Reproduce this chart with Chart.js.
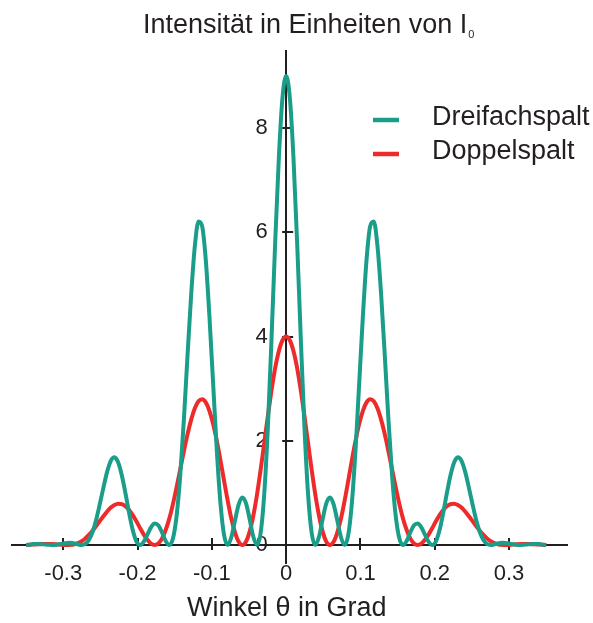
<!DOCTYPE html>
<html>
<head>
<meta charset="utf-8">
<script src="https://cdn.jsdelivr.net/npm/chart.js@4.4.1/dist/chart.umd.min.js"></script>
<style>
html,body{margin:0;padding:0;background:#ffffff;}
#wrap{position:relative;width:593px;height:623px;}
</style>
</head>
<body>
<div id="wrap"><canvas id="c" width="593" height="623"></canvas></div>
<script>
// ---- data ----
const angles = [
 -0.3500,-0.3442,-0.3393,-0.3343,-0.3294,-0.3245,-0.3196,-0.3147,-0.3098,-0.3048,-0.2999,-0.2950,
 -0.2901,-0.2852,-0.2803,-0.2753,-0.2704,-0.2655,-0.2606,-0.2557,-0.2508,-0.2458,-0.2409,-0.2360,
 -0.2311,-0.2262,-0.2213,-0.2163,-0.2114,-0.2065,-0.2016,-0.1967,-0.1918,-0.1868,-0.1819,-0.1770,
 -0.1721,-0.1672,-0.1623,-0.1573,-0.1524,-0.1475,-0.1426,-0.1377,-0.1328,-0.1278,-0.1229,-0.1180,
 -0.1131,-0.1082,-0.1033,-0.0983,-0.0934,-0.0885,-0.0836,-0.0787,-0.0738,-0.0688,-0.0639,-0.0590,
 -0.0541,-0.0492,-0.0443,-0.0393,-0.0344,-0.0295,-0.0246,-0.0197,-0.0148,-0.0098,-0.0049,
 0,
 0.0049,0.0098,0.0148,0.0197,0.0246,0.0295,0.0344,0.0393,0.0443,0.0492,0.0541,
 0.0590,0.0639,0.0688,0.0738,0.0787,0.0836,0.0885,0.0934,0.0983,0.1033,0.1082,0.1131,
 0.1180,0.1229,0.1278,0.1328,0.1377,0.1426,0.1475,0.1524,0.1573,0.1623,0.1672,0.1721,
 0.1770,0.1819,0.1868,0.1918,0.1967,0.2016,0.2065,0.2114,0.2163,0.2213,0.2262,0.2311,
 0.2360,0.2409,0.2458,0.2508,0.2557,0.2606,0.2655,0.2704,0.2753,0.2803,0.2852,0.2901,
 0.2950,0.2999,0.3048,0.3098,0.3147,0.3196,0.3245,0.3294,0.3343,0.3393,0.3442,0.3500
];
const dreifachspalt = [
 0,0.012,0.018,0.020,0.017,0.010,0.003,0,0.004,0.015,0.030,0.041,
 0.042,0.030,0.011,0,0.020,0.097,0.250,0.486,0.786,1.112,1.408,1.614,
 1.682,1.587,1.342,0.994,0.616,0.287,0.071,0,0.060,0.198,0.340,0.414,
 0.379,0.246,0.083,0,0.123,0.552,1.326,2.395,3.625,4.813,5.737,6.208,
 6.118,5.474,4.397,3.100,1.831,0.814,0.194,0,0.149,0.474,0.781,0.914,
 0.805,0.503,0.163,0,0.226,0.978,2.268,3.960,5.796,7.446,8.590,
 9.000,
 8.590,7.446,5.796,3.960,2.268,0.978,0.226,0,0.163,0.503,0.805,
 0.914,0.781,0.474,0.149,0,0.194,0.814,1.831,3.100,4.397,5.474,6.118,
 6.208,5.737,4.813,3.625,2.395,1.326,0.552,0.123,0,0.083,0.246,0.379,
 0.414,0.340,0.198,0.060,0,0.071,0.287,0.616,0.994,1.342,1.587,1.682,
 1.614,1.408,1.112,0.786,0.486,0.250,0.097,0.020,0,0.011,0.030,0.042,
 0.041,0.030,0.015,0.004,0,0.003,0.010,0.017,0.020,0.018,0.012,0
];
const doppelspalt = [
 0,0.006,0.010,0.015,0.018,0.021,0.021,0.018,0.013,0.008,0.002,0,
 0.003,0.015,0.038,0.075,0.127,0.194,0.274,0.364,0.460,0.556,0.644,0.718,
 0.769,0.794,0.786,0.746,0.673,0.574,0.455,0.328,0.204,0.099,0.027,0,
 0.030,0.123,0.283,0.506,0.784,1.105,1.449,1.796,2.123,2.406,2.624,2.759,
 2.799,2.737,2.576,2.325,2.001,1.629,1.235,0.851,0.508,0.237,0.061,0,
 0.063,0.252,0.557,0.961,1.438,1.956,2.479,2.970,3.395,3.723,3.929,
 4.000,
 3.929,3.723,3.395,2.970,2.479,1.956,1.438,0.961,0.557,0.252,0.063,
 0,0.061,0.237,0.508,0.851,1.235,1.629,2.001,2.325,2.576,2.737,2.799,
 2.759,2.624,2.406,2.123,1.796,1.449,1.105,0.784,0.506,0.283,0.123,0.030,
 0,0.027,0.099,0.204,0.328,0.455,0.574,0.673,0.746,0.786,0.794,0.769,
 0.718,0.644,0.556,0.460,0.364,0.274,0.194,0.127,0.075,0.038,0.015,0.003,
 0,0.002,0.008,0.013,0.018,0.021,0.021,0.018,0.015,0.010,0.006,0
];
const seriesNames = ['Dreifachspalt', 'Doppelspalt'];
const xTickValues = [-0.3, -0.2, -0.1, 0, 0.1, 0.2, 0.3];
const xTickLabels = ['-0.3', '-0.2', '-0.1', '0', '0.1', '0.2', '0.3'];
const yTickValues = [0, 2, 4, 6, 8];
const yTickLabels = ['0', '2', '4', '6', '8'];
const titleText = 'Intensität in Einheiten von I';
const titleSub = '0';
const xAxisTitle = 'Winkel θ in Grad';

// ---- styling ----
const INK = '#231f20';
const TEAL = '#1a9e89';
const RED = '#ee2b2b';
const FONT = '"Liberation Sans", Arial, Helvetica, sans-serif';

function pts(ys) { return angles.map((x, i) => ({x: x, y: ys[i]})); }

const deco = {
  id: 'deco',
  beforeDatasetsDraw(chart) {
    const ctx = chart.ctx, xs = chart.scales.x, ys = chart.scales.y;
    const y0 = ys.getPixelForValue(0), x0 = xs.getPixelForValue(0);
    ctx.save();
    ctx.strokeStyle = INK; ctx.lineWidth = 2;
    ctx.beginPath();
    xTickValues.forEach(v => {
      if (v === 0) return;
      const px = Math.round(xs.getPixelForValue(v));
      ctx.moveTo(px, y0 - 7); ctx.lineTo(px, y0 + 5);
    });
    yTickValues.forEach(v => {
      if (v === 0) return;
      const py = Math.round(ys.getPixelForValue(v));
      ctx.moveTo(x0 - 4, py); ctx.lineTo(x0 + 7, py);
    });
    ctx.stroke();
    ctx.restore();
  },
  afterDraw(chart) {
    const ctx = chart.ctx;
    ctx.save();
    ctx.fillStyle = INK;
    ctx.textBaseline = 'alphabetic';
    ctx.textAlign = 'left';
    // title
    ctx.font = '27px ' + FONT;
    ctx.fillText(titleText, 143, 33);
    const w = ctx.measureText(titleText).width;
    ctx.font = '11px ' + FONT;
    ctx.fillText(titleSub, 143 + w + 1, 38);
    // x axis title
    ctx.font = '27px ' + FONT;
    ctx.fillText(xAxisTitle, 187, 616);
    // legend
    const rows = [120, 154];
    chart.data.datasets.forEach((ds, i) => {
      const y = rows[i];
      ctx.strokeStyle = ds.borderColor;
      ctx.lineWidth = 4.5;
      ctx.beginPath();
      ctx.moveTo(373, y); ctx.lineTo(399, y);
      ctx.stroke();
      ctx.fillStyle = INK;
      ctx.font = '27px ' + FONT;
      ctx.textBaseline = 'middle';
      ctx.fillText(ds.label, 432, y - 2);
    });
    ctx.restore();
  }
};

new Chart(document.getElementById('c'), {
  type: 'line',
  data: {
    datasets: [
      { label: seriesNames[0], data: pts(dreifachspalt), borderColor: TEAL, backgroundColor: TEAL,
        borderWidth: 4, pointRadius: 0, cubicInterpolationMode: 'monotone', fill: false },
      { label: seriesNames[1], data: pts(doppelspalt), borderColor: RED, backgroundColor: RED,
        borderWidth: 4, pointRadius: 0, cubicInterpolationMode: 'monotone', fill: false }
    ]
  },
  options: {
    responsive: false,
    animation: false,
    devicePixelRatio: 1,
    layout: { padding: { left: 12, right: 26, top: 51, bottom: 60 } },
    plugins: { legend: { display: false }, title: { display: false }, tooltip: { enabled: false } },
    scales: {
      x: {
        type: 'linear',
        position: { y: 0 },
        min: -0.369, max: 0.378,
        afterBuildTicks: s => { s.ticks = xTickValues.map(v => ({ value: v })); },
        grid: { display: false, drawTicks: false },
        border: { display: true, color: INK, width: 2 },
        ticks: {
          autoSkip: false, maxRotation: 0, padding: 16, color: INK,
          font: { family: FONT, size: 22 },
          callback: (v, i) => xTickLabels[i]
        }
      },
      y: {
        type: 'linear',
        position: { x: 0 },
        min: -0.345, max: 9.48,
        afterBuildTicks: s => { s.ticks = yTickValues.map(v => ({ value: v })); },
        grid: { display: false, drawTicks: false },
        border: { display: true, color: INK, width: 2 },
        ticks: {
          autoSkip: false, padding: 0, color: INK,
          font: { family: FONT, size: 22 },
          callback: (v, i) => yTickLabels[i] + '   '
        }
      }
    }
  },
  plugins: [deco]
});
</script>
</body>
</html>
